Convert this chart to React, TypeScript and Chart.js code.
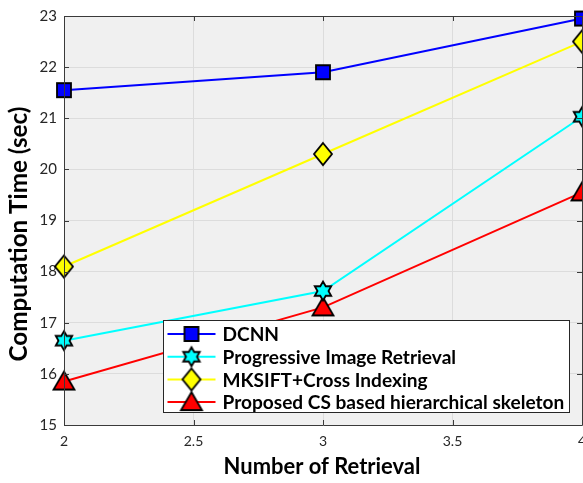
import React, { useEffect, useRef } from 'react';
import { Chart, registerables } from 'chart.js';

Chart.register(...registerables);

const retrievals = [2, 3, 4];
const seriesNames = [
  'DCNN',
  'Progressive Image Retrieval',
  'MKSIFT+Cross Indexing',
  'Proposed CS based hierarchical skeleton',
];
const dcnn = [21.55, 21.9, 22.95];
const progressive = [16.65, 17.62, 21.03];
const mksift = [18.1, 20.3, 22.5];
const proposed = [15.85, 17.3, 19.55];
const xTicks = [2, 2.5, 3, 3.5, 4];
const yTicks = [15, 16, 17, 18, 19, 20, 21, 22, 23];
const xTitle = 'Number of Retrieval';
const yTitle = 'Computation Time (sec)';
const colors = ['#0000ff', '#00ffff', '#ffff00', '#ff0000'];
const markerKinds = ['square', 'hexagram', 'diamond', 'triangle'];

const FONT = 'Lato, "Open Sans", sans-serif';

function fitSize(text: string, target: number, weight: string, family: string): number {
  const c = document.createElement('canvas');
  const ctx = c.getContext('2d')!;
  ctx.font = `${weight} 100px ${family}`;
  const w = ctx.measureText(text).width;
  return (100 * target) / w;
}

function makeMarker(kind: string, fill: string): HTMLCanvasElement {
  const sz = 28;
  const c = document.createElement('canvas');
  c.width = sz;
  c.height = sz;
  const ctx = c.getContext('2d')!;
  ctx.translate(sz / 2, sz / 2);
  ctx.lineWidth = 1.8;
  ctx.strokeStyle = '#000';
  ctx.fillStyle = fill;
  ctx.lineJoin = 'miter';
  ctx.beginPath();
  if (kind === 'square') {
    ctx.rect(-7, -7, 14, 14);
  } else if (kind === 'hexagram') {
    const R = 9.5;
    const r = R / Math.sqrt(3);
    for (let i = 0; i < 12; i++) {
      const a = -Math.PI / 2 + (i * Math.PI) / 6;
      const rad = i % 2 === 0 ? R : r;
      const px = Math.cos(a) * rad;
      const py = Math.sin(a) * rad;
      if (i === 0) ctx.moveTo(px, py);
      else ctx.lineTo(px, py);
    }
    ctx.closePath();
  } else if (kind === 'diamond') {
    ctx.moveTo(0, -11);
    ctx.lineTo(9, 0);
    ctx.lineTo(0, 11);
    ctx.lineTo(-9, 0);
    ctx.closePath();
  } else {
    ctx.moveTo(0, -10);
    ctx.lineTo(10.5, 8);
    ctx.lineTo(-10.5, 8);
    ctx.closePath();
  }
  ctx.fill();
  ctx.stroke();
  return c;
}

export default function App() {
  const ref = useRef<HTMLCanvasElement | null>(null);

  useEffect(() => {
    if (!ref.current) return;
    const markers = markerKinds.map((k, i) => makeMarker(k, colors[i]));
    const seriesValues = [dcnn, progressive, mksift, proposed];
    const longest = seriesNames.reduce((a, b) => (b.length > a.length ? b : a), '');
    const legendSize = fitSize(longest, 342, 'bold', FONT);
    const xTitleSize = fitSize(xTitle, 197, 'bold', FONT);
    const yTitleSize = fitSize(yTitle, 255, 'bold', FONT);

    const matlabPlugin = {
      id: 'matlabStyle',
      beforeDraw(chart: any) {
        const { ctx, chartArea: ca, width, height } = chart;
        ctx.save();
        ctx.fillStyle = '#ffffff';
        ctx.fillRect(0, 0, width, height);
        ctx.fillStyle = '#f0f0f0';
        ctx.fillRect(ca.left, ca.top, ca.right - ca.left, ca.bottom - ca.top);
        ctx.restore();
      },
      afterDatasetsDraw(chart: any) {
        const { ctx, chartArea: ca } = chart;
        const xs = chart.scales.x;
        const ys = chart.scales.y;
        ctx.save();
        ctx.strokeStyle = '#3a3a3a';
        ctx.lineWidth = 1;
        ctx.beginPath();
        ctx.rect(Math.round(ca.left) + 0.5, Math.round(ca.top) + 0.5, Math.round(ca.right - ca.left), Math.round(ca.bottom - ca.top));
        ctx.stroke();
        ctx.beginPath();
        xTicks.forEach((v) => {
          const px = Math.round(xs.getPixelForValue(v)) + 0.5;
          ctx.moveTo(px, ca.bottom);
          ctx.lineTo(px, ca.bottom - 5);
          ctx.moveTo(px, ca.top);
          ctx.lineTo(px, ca.top + 5);
        });
        yTicks.forEach((v) => {
          const py = Math.round(ys.getPixelForValue(v)) + 0.5;
          ctx.moveTo(ca.left, py);
          ctx.lineTo(ca.left + 5, py);
          ctx.moveTo(ca.right, py);
          ctx.lineTo(ca.right - 5, py);
        });
        ctx.stroke();
        ctx.restore();
      },
      afterDraw(chart: any) {
        const { ctx, chartArea: ca } = chart;
        ctx.save();
        // axis titles
        ctx.fillStyle = '#000';
        ctx.textAlign = 'center';
        ctx.textBaseline = 'middle';
        ctx.font = `bold ${xTitleSize}px ${FONT}`;
        ctx.fillText(xTitle, (ca.left + ca.right) / 2 - 1, 467);
        ctx.save();
        ctx.translate(19, 234);
        ctx.rotate(-Math.PI / 2);
        ctx.font = `bold ${yTitleSize}px ${FONT}`;
        ctx.fillText(yTitle, 0, 0);
        ctx.restore();
        // legend
        const bx = ca.left + 99.5;
        const by = ca.top + 304.5;
        const bw = 406;
        const bh = 92;
        ctx.fillStyle = '#ffffff';
        ctx.fillRect(bx, by, bw, bh);
        ctx.strokeStyle = '#262626';
        ctx.lineWidth = 1;
        ctx.strokeRect(bx, by, bw, bh);
        ctx.textAlign = 'left';
        chart.data.datasets.forEach((ds: any, i: number) => {
          const cy = by + 13.5 + i * 22.7;
          ctx.strokeStyle = ds.borderColor;
          ctx.lineWidth = 2;
          ctx.beginPath();
          ctx.moveTo(bx + 4, cy);
          ctx.lineTo(bx + 52, cy);
          ctx.stroke();
          const m = markers[i];
          ctx.drawImage(m, bx + 28 - m.width / 2, cy - m.height / 2);
          ctx.fillStyle = '#000';
          ctx.font = `bold ${legendSize}px ${FONT}`;
          ctx.textBaseline = 'middle';
          ctx.fillText(ds.label, bx + 59, cy + 1);
        });
        ctx.restore();
      },
    };

    const chart = new Chart(ref.current, {
      type: 'line',
      data: {
        datasets: seriesNames.map((name, i) => ({
          label: name,
          data: retrievals.map((x, j) => ({ x, y: seriesValues[i][j] })),
          borderColor: colors[i],
          backgroundColor: colors[i],
          borderWidth: 2,
          pointStyle: markers[i] as any,
          pointRadius: 10,
          tension: 0,
          clip: false as any,
        })),
      },
      options: {
        animation: false,
        responsive: false,
        devicePixelRatio: 1,
        layout: { padding: { left: 0, right: 38, top: 16, bottom: 0 } },
        plugins: { legend: { display: false }, tooltip: { enabled: false } },
        scales: {
          x: {
            type: 'linear',
            min: 2,
            max: 4,
            afterBuildTicks: (s: any) => {
              s.ticks = xTicks.map((v) => ({ value: v }));
            },
            afterFit: (s: any) => {
              s.height = 58;
            },
            grid: { color: '#dcdcdc', drawTicks: false },
            border: { display: false },
            ticks: {
              color: '#262626',
              font: { family: FONT, size: 14 },
              padding: 8,
              maxRotation: 0,
              callback: (v: any) => String(Number(v)),
            },
            title: { display: false },
          },
          y: {
            type: 'linear',
            min: 15,
            max: 23,
            afterBuildTicks: (s: any) => {
              s.ticks = yTicks.map((v) => ({ value: v }));
            },
            afterFit: (s: any) => {
              s.width = 64;
            },
            grid: { color: '#dcdcdc', drawTicks: false },
            border: { display: false },
            ticks: {
              color: '#262626',
              font: { family: FONT, size: 15 },
              padding: 7,
              callback: (v: any) => String(Number(v)),
            },
            title: { display: false },
          },
        },
      },
      plugins: [matlabPlugin],
    } as any);

    return () => chart.destroy();
  }, []);

  return (
    <div style={{ position: 'absolute', left: 0, top: 0, width: 583, height: 483, overflow: 'hidden', background: '#fff' }}>
      <canvas ref={ref} width={620} height={483} style={{ width: 620, height: 483, display: 'block' }} />
    </div>
  );
}
